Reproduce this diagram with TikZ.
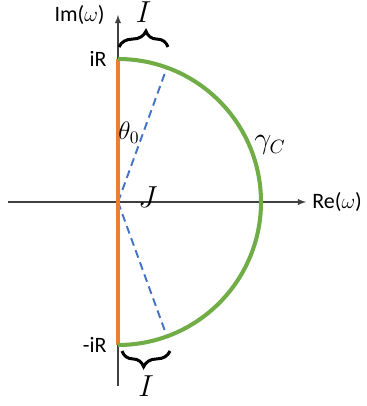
\documentclass[tikz,border=0pt]{standalone}
\usepackage{fontspec}
\setmainfont{Carlito}
\usetikzlibrary{decorations.pathreplacing}
\definecolor{arcgreen}{HTML}{70AD47}
\definecolor{segorange}{HTML}{ED7D31}
\definecolor{rayblue}{HTML}{4472C4}
\begin{document}
\begin{tikzpicture}[font=\fontsize{12.5}{15}\selectfont,
  axis/.style={line width=0.6pt,draw=black!75,-latex},
  ray/.style={rayblue,line width=1.1pt,dash pattern=on 4.5pt off 2.8pt},
  bracetop/.style={line width=1.7pt,decorate,decoration={brace,amplitude=9pt,aspect=0.55}},
  mathlbl/.style={font=\fontsize{16}{18}\selectfont}]
\useasboundingbox (-2.36,-4.08) rectangle (4.96,4.04);
\def\R{2.86}
\coordinate (O) at (0,0);
\coordinate (xl) at (-2.2,0);
\coordinate (xr) at (3.76,0);
\coordinate (yb) at (0,-3.68);
\coordinate (yt) at (0,3.74);
\coordinate (top) at (90:\R);
\coordinate (bot) at (-90:\R);
\coordinate (P) at (70:\R);
\coordinate (Q) at (-70:\R);
\draw[axis] (xl)--(xr) node[right=0pt] (re) {Re($\omega$)};
\draw[axis] (yb)--(yt) node[left=4pt] (im) {Im($\omega$)};
\draw[ray] (O)--(P);
\draw[ray] (O)--(Q);
\draw[segorange,line width=2.8pt] (bot)--(top);
\draw[arcgreen,line width=2.3pt] (top) arc[start angle=90,end angle=-90,radius=\R];
\node[left=3pt] (ir) at (top) {iR};
\node[left=3pt] (mir) at (bot) {-iR};
\draw[bracetop] (0.02,3.1)--(1.0,3.1) node[midway,above=10pt,mathlbl] (itop) {$I$};
\draw[bracetop] (1.04,-2.98)--(0.08,-2.98) node[midway,below=12pt,mathlbl,inner sep=1pt] (ibot) {$I$};
\node[font=\fontsize{14}{16}\selectfont] (th) at (0.22,1.38) {$\theta_0$};
\node[mathlbl] (j) at (0.6,0.1) {$J$};
\node[mathlbl] (gc) at (3.04,1.14) {$\gamma_C$};
\end{tikzpicture}
\end{document}
